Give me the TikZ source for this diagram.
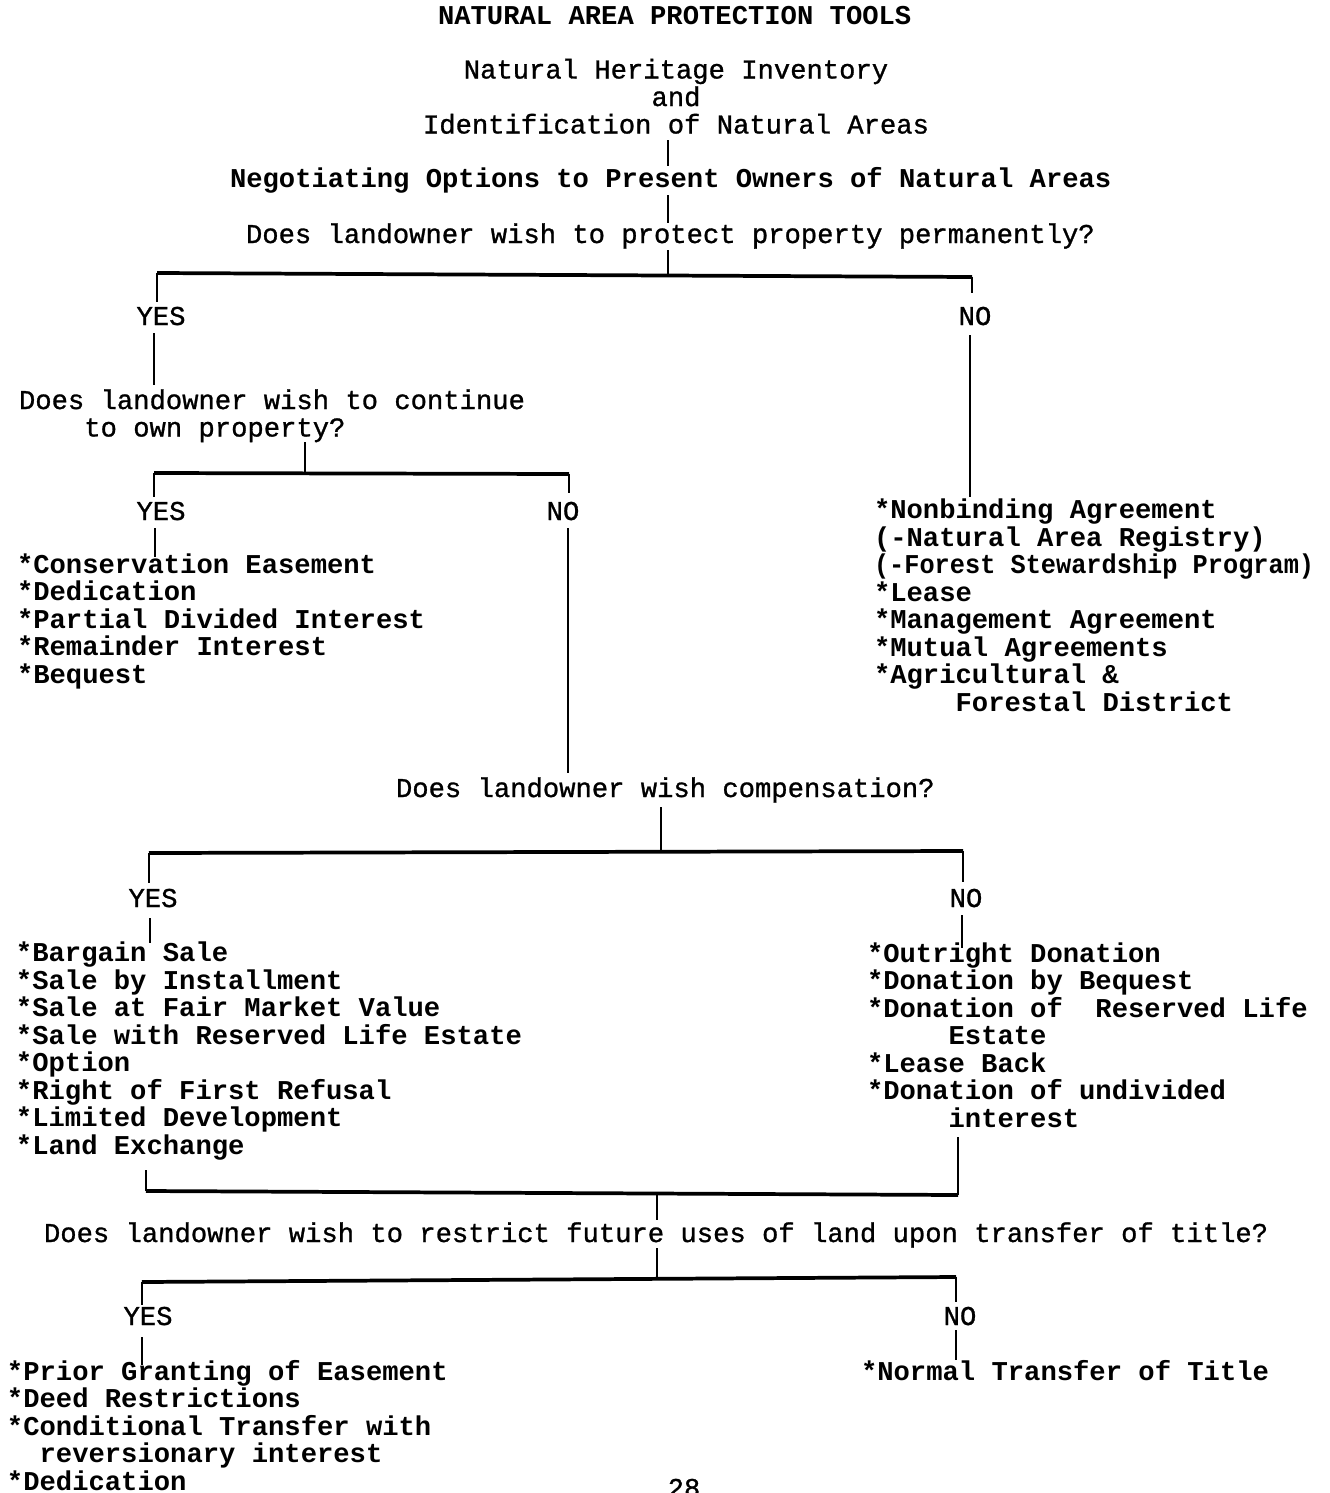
\documentclass[tikz,border=0pt]{standalone}
\usepackage{fontspec}
\setmainfont{Liberation Mono}
\newfontfamily\regfont{Liberation Mono}[FakeBold=1.0]
\newcommand{\fsz}{\fontsize{20.4}{20.62}\selectfont}
\begin{document}
\begin{tikzpicture}[x=0.75pt,y=-0.75pt,
  every node/.style={inner sep=0pt,outer sep=0pt,font=\fsz\regfont},
  bld/.style={font=\fsz\normalfont\bfseries},
  lbl/.style={anchor=base},
  lft/.style={anchor=base west},
  lst/.style={anchor=base west,align=left},
  bar/.style={line width=2.8pt},
  stem/.style={line width=1.6pt}]
\fill[white] (0,0) rectangle (1329,1493);
\useasboundingbox (0,0) rectangle (1329,1493);

% ---------- texts (multi-line nodes are placed by their last baseline) ----------
\node[bld,lft] (title) at (438,24) {NATURAL AREA PROTECTION TOOLS};
\node[anchor=base,align=center] (nhi) at (676,133.5) {Natural Heritage Inventory\\and\\Identification of Natural Areas};
\node[bld,lft] (neg) at (230,187) {Negotiating Options to Present Owners of Natural Areas};
\node[lft] (q1) at (246,243) {Does landowner wish to protect property permanently?};
\node[lbl] (y1) at (161,325) {YES};
\node[lbl] (n1) at (975,325) {NO};
\node[lst] (q2) at (19,436.5) {Does landowner wish to continue\\\phantom{Does}to own property?};
\node[lbl] (y2) at (161,520) {YES};
\node[lbl] (n2) at (563,520) {NO};
\node[lst,bld] (keep) at (17,683) {*Conservation Easement\\*Dedication\\*Partial Divided Interest\\*Remainder Interest\\*Bequest};
\node[lst,bld] (temp) at (874,711.4) {*Nonbinding Agreement\\(-Natural Area Registry)\\\scalebox{0.93}[1]{(-Forest Stewardship Program)}\\*Lease\\*Management Agreement\\*Mutual Agreements\\*Agricultural \&\\\phantom{*Agri}Forestal District};
\node[lft] (q3) at (396,797) {Does landowner wish compensation?};
\node[lbl] (y3) at (153,907) {YES};
\node[lbl] (n3) at (966,907) {NO};
\node[lst,bld] (sale) at (16,1154.4) {*Bargain Sale\\*Sale by Installment\\*Sale at Fair Market Value\\*Sale with Reserved Life Estate\\*Option\\*Right of First Refusal\\*Limited Development\\*Land Exchange};
\node[lst,bld] (don) at (867,1127) {*Outright Donation\\*Donation by Bequest\\*Donation of\ \ Reserved Life\\\phantom{*Dona}Estate\\*Lease Back\\*Donation of undivided\\\phantom{*Dona}interest};
\node[lft] (q4) at (44,1242) {Does landowner wish to restrict future uses of land upon transfer of title?};
\node[lbl] (y4) at (148,1325) {YES};
\node[lbl] (n4) at (960,1325) {NO};
\node[lst,bld] (restr) at (7,1490) {*Prior Granting of Easement\\*Deed Restrictions\\*Conditional Transfer with\\\phantom{*C}reversionary interest\\*Dedication};
\node[lst,bld] (normal) at (861,1380) {*Normal Transfer of Title};
\node[lbl] (page) at (684,1497) {28};

% ---------- connector points ----------
\coordinate (a1) at (668,140); \coordinate (a2) at (668,166);
\coordinate (a3) at (668,195); \coordinate (a4) at (668,223);
\coordinate (a5) at (668,250); \coordinate (a6) at (668,275);
\coordinate (b1l) at (157,273); \coordinate (b1r) at (972,277);
\coordinate (b1ld) at (157,302); \coordinate (b1rd) at (972,293);
\coordinate (y1a) at (154,333); \coordinate (y1b) at (154,385);
\coordinate (n1a) at (970,335); \coordinate (n1b) at (970,497);
\coordinate (q2a) at (305,442); \coordinate (q2b) at (305,473);
\coordinate (b2l) at (154,473); \coordinate (b2r) at (569,474);
\coordinate (b2ld) at (154,497); \coordinate (b2rd) at (569,493);
\coordinate (y2a) at (155,528); \coordinate (y2b) at (155,557);
\coordinate (n2a) at (568,528); \coordinate (n2b) at (568,773);
\coordinate (q3a) at (661,807); \coordinate (q3b) at (661,852);
\coordinate (b3l) at (149,853); \coordinate (b3r) at (963,851);
\coordinate (b3ld) at (149,883); \coordinate (b3rd) at (963,882);
\coordinate (y3a) at (150,918); \coordinate (y3b) at (150,943);
\coordinate (n3a) at (962,915); \coordinate (n3b) at (962,948);
\coordinate (b4lu) at (146,1170); \coordinate (b4ru) at (958,1137);
\coordinate (b4l) at (146,1191); \coordinate (b4r) at (958,1195);
\coordinate (c4a) at (657,1193); \coordinate (c4b) at (657,1220);
\coordinate (q4a) at (657,1248); \coordinate (q4b) at (657,1279);
\coordinate (b5l) at (142,1282); \coordinate (b5r) at (956,1277);
\coordinate (b5ld) at (142,1305); \coordinate (b5rd) at (956,1302);
\coordinate (y4a) at (142,1337); \coordinate (y4b) at (142,1365);
\coordinate (n4a) at (956,1330); \coordinate (n4b) at (956,1360);

% ---------- connectors ----------
\draw[stem] (a1) -- (a2);
\draw[stem] (a3) -- (a4);
\draw[stem] (a5) -- (a6);
\draw[bar] (b1l) -- (b1r);
\draw[stem] (b1l) -- (b1ld);
\draw[stem] (b1r) -- (b1rd);
\draw[stem] (y1a) -- (y1b);
\draw[stem] (n1a) -- (n1b);
\draw[stem] (q2a) -- (q2b);
\draw[bar] (b2l) -- (b2r);
\draw[stem] (b2l) -- (b2ld);
\draw[stem] (b2r) -- (b2rd);
\draw[stem] (y2a) -- (y2b);
\draw[stem] (n2a) -- (n2b);
\draw[stem] (q3a) -- (q3b);
\draw[bar] (b3l) -- (b3r);
\draw[stem] (b3l) -- (b3ld);
\draw[stem] (b3r) -- (b3rd);
\draw[stem] (y3a) -- (y3b);
\draw[stem] (n3a) -- (n3b);
\draw[stem] (b4lu) -- (b4l);
\draw[stem] (b4ru) -- (b4r);
\draw[bar] (b4l) -- (b4r);
\draw[stem] (c4a) -- (c4b);
\draw[stem] (q4a) -- (q4b);
\draw[bar] (b5l) -- (b5r);
\draw[stem] (b5l) -- (b5ld);
\draw[stem] (b5r) -- (b5rd);
\draw[stem] (y4a) -- (y4b);
\draw[stem] (n4a) -- (n4b);
\end{tikzpicture}
\end{document}
